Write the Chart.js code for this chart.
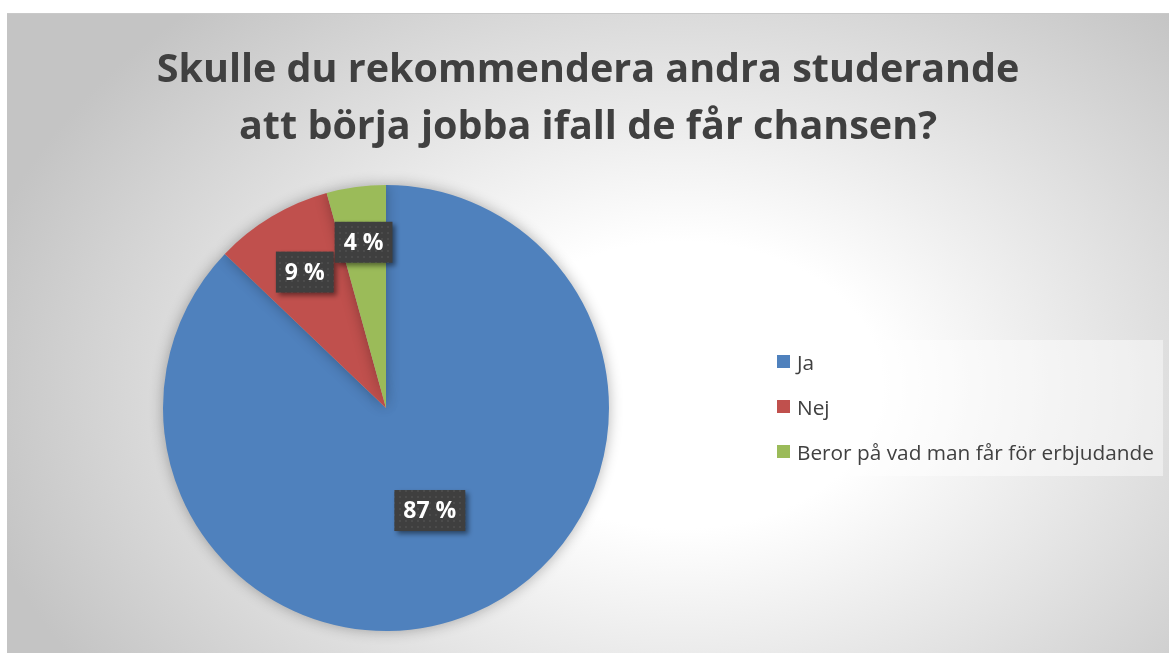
<!DOCTYPE html>
<html lang="sv">
<head>
<meta charset="utf-8">
<title>Skulle du rekommendera andra studerande att börja jobba</title>
<script src="https://cdn.jsdelivr.net/npm/chart.js@4.4.1/dist/chart.umd.min.js"></script>
<style>
    html, body { margin: 0; padding: 0; background: #ffffff; }
    body { width: 1169px; height: 653px; overflow: hidden; position: relative; font-family: 'Open Sans', sans-serif; }
    #panel {
        position: absolute; left: 7px; top: 13px; width: 1162px; height: 640px;
        border-top: 1px solid #c9c9c9;
        background: radial-gradient(ellipse 62% 80% at 58% 58%, #ffffff 0%, #ffffff 28%, #c4c4c4 100%);
    }
    #pieChart { position: absolute; left: 0; top: 0; }
    #title {
        position: absolute; left: 0; top: 25px; width: 1162px;
        text-align: center; font-weight: 700; font-size: 39.5px; line-height: 57px; color: #404040;
    }
    #legend {
        position: absolute; left: 758px; top: 326px; width: 398px; height: 136px;
        background: rgba(255, 255, 255, 0.45);
    }
    .item { height: 45px; display: flex; align-items: center; font-size: 20.8px; color: #404040; }
    .item:first-child { margin-top: -1px; }
    .swatch { width: 13px; height: 13px; margin: 0 7px 0 12px; }
</style>
</head>
<body>
<div id="panel">
    <canvas id="pieChart" width="1162" height="640"></canvas>
    <div id="title">Skulle du rekommendera andra studerande<br>att börja jobba ifall de får chansen?</div>
    <div id="legend"></div>
</div>
<script>
// Data (antal svar)
const labels = ['Ja', 'Nej', 'Beror på vad man får för erbjudande'];
const values = [61, 6, 3];
const colors = ['#4f81bd', '#c0504d', '#9bbb59'];
// hur långt ut etiketten sitter (andel av radien)
const labelRadius = [0.5, 0.71, 0.75];

// Legend i HTML
const legendEl = document.getElementById('legend');
labels.forEach((name, i) => {
    const row = document.createElement('div');
    row.className = 'item';
    row.innerHTML = `<span class="swatch" style="background:${colors[i]}"></span><span>${name}</span>`;
    legendEl.appendChild(row);
});

// Prickigt mönster för etikettrutorna
function makePattern(ctx) {
    const c = document.createElement('canvas');
    c.width = 6; c.height = 6;
    const p = c.getContext('2d');
    p.fillStyle = '#3f3f3f';
    p.fillRect(0, 0, 6, 6);
    p.fillStyle = '#4b4b4b';
    p.fillRect(2, 2, 2, 2);
    return ctx.createPattern(c, 'repeat');
}

// Skugga runt cirkeln
const pieShadow = {
    id: 'pieShadow',
    beforeDatasetsDraw(chart) {
        const ctx = chart.ctx;
        ctx.save();
        ctx.shadowColor = 'rgba(0, 0, 0, 0.3)';
        ctx.shadowBlur = 14;
    },
    afterDatasetsDraw(chart) {
        chart.ctx.restore();
    }
};

// Procentetiketter
const percentLabels = {
    id: 'percentLabels',
    afterDatasetsDraw(chart) {
        const ctx = chart.ctx;
        const total = values.reduce((a, b) => a + b, 0);
        const pattern = makePattern(ctx);
        chart.getDatasetMeta(0).data.forEach((arc, i) => {
            const mid = (arc.startAngle + arc.endAngle) / 2;
            const r = arc.outerRadius * labelRadius[i];
            const x = arc.x + Math.cos(mid) * r;
            const y = arc.y + Math.sin(mid) * r;
            const text = Math.round(values[i] / total * 100) + ' %';

            ctx.save();
            ctx.font = "700 23px 'Open Sans'";
            const w = ctx.measureText(text).width + 18;
            const h = 41;
            ctx.shadowColor = 'rgba(0, 0, 0, 0.45)';
            ctx.shadowBlur = 5;
            ctx.shadowOffsetX = 3;
            ctx.shadowOffsetY = 3;
            ctx.fillStyle = pattern;
            ctx.fillRect(x - w / 2, y - h / 2, w, h);
            ctx.shadowColor = 'transparent';
            ctx.fillStyle = '#ffffff';
            ctx.textAlign = 'center';
            ctx.textBaseline = 'middle';
            ctx.fillText(text, x, y + 1);
            ctx.restore();
        });
    }
};

function initChart() {
    const ctx = document.getElementById('pieChart').getContext('2d');
    new Chart(ctx, {
        type: 'pie',
        data: {
            labels: labels,
            datasets: [{
                data: values,
                backgroundColor: colors,
                borderWidth: 0
            }]
        },
        options: {
            responsive: false,
            animation: false,
            layout: { padding: { left: 156, top: 171, right: 560, bottom: 23 } },
            plugins: {
                legend: { display: false },
                title: { display: false },
                tooltip: { enabled: false }
            }
        },
        plugins: [pieShadow, percentLabels]
    });
}

document.addEventListener('DOMContentLoaded', initChart);
</script>
</body>
</html>
